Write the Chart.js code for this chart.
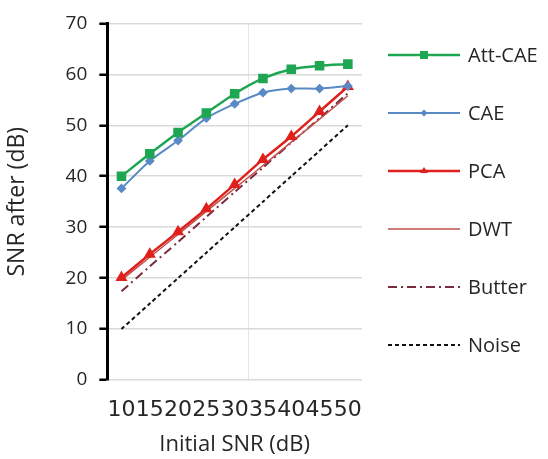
<!DOCTYPE html>
<html>
<head>
<meta charset="utf-8">
<script src="https://cdn.jsdelivr.net/npm/chart.js@4"></script>
<style>
  html, body { margin: 0; padding: 0; background: #fff; }
  #wrap { width: 548px; height: 459px; }
</style>
</head>
<body>
<div id="wrap"><canvas id="snrChart" width="548" height="459"></canvas></div>
<script>
// values
const initialSnr = ['10', '15', '20', '25', '30', '35', '40', '45', '50'];
const attCae = [40.0, 44.4, 48.6, 52.4, 56.2, 59.2, 61.0, 61.7, 62.0];
const cae    = [37.6, 43.0, 47.0, 51.4, 54.2, 56.4, 57.2, 57.2, 57.7];
const pca    = [20.1, 24.7, 29.1, 33.6, 38.4, 43.3, 47.8, 52.7, 57.6];
const dwt    = [19.6, 24.1, 28.6, 33.1, 37.6, 42.1, 46.7, 51.2, 55.8];
const butter = [17.4, 22.3, 27.1, 32.0, 36.9, 41.7, 46.6, 51.4, 56.3];
const noise  = [10, 15, 20, 25, 30, 35, 40, 45, 50];

const FONT = "'Open Sans', sans-serif";
const TXT = '#262626';

// legend drawn to the right, like the original spreadsheet figure
const sideLegend = {
  id: 'sideLegend',
  afterDraw(chart) {
    const ctx = chart.ctx;
    const x0 = 388, x1 = 460, top = 55, step = 58;
    const cx = (x0 + x1) / 2;
    chart.data.datasets.forEach((ds, i) => {
      const y = top + i * step;
      ctx.save();
      ctx.strokeStyle = ds.borderColor;
      ctx.lineWidth = ds.borderWidth;
      ctx.setLineDash(ds.borderDash || []);
      ctx.beginPath();
      ctx.moveTo(x0, y);
      ctx.lineTo(x1, y);
      ctx.stroke();
      ctx.setLineDash([]);
      ctx.fillStyle = ds.borderColor;
      ctx.beginPath();
      if (ds.pointStyle === 'rect') {
        ctx.fillRect(cx - 4, y - 4, 8, 8);
      } else if (ds.pointStyle === 'rectRot') {
        ctx.moveTo(cx, y - 3.5); ctx.lineTo(cx + 3.5, y); ctx.lineTo(cx, y + 3.5); ctx.lineTo(cx - 3.5, y);
        ctx.closePath(); ctx.fill();
      } else if (ds.pointStyle === 'triangle') {
        ctx.moveTo(cx, y - 4); ctx.lineTo(cx + 4, y + 2); ctx.lineTo(cx - 4, y + 2);
        ctx.closePath(); ctx.fill();
      }
      ctx.fillStyle = TXT;
      ctx.font = '20px ' + FONT;
      ctx.textBaseline = 'middle';
      ctx.textAlign = 'left';
      ctx.fillText(ds.label, 468, y + 1);
      ctx.restore();
    });
  }
};

new Chart(document.getElementById('snrChart'), {
  type: 'line',
  data: {
    labels: initialSnr,
    datasets: [
      { label: 'Att-CAE', data: attCae, borderColor: '#1fa653', backgroundColor: '#1fa653', pointBackgroundColor: '#1fa653', pointBorderColor: '#1fa653', borderWidth: 2.5, pointStyle: 'rect', pointRadius: 5 },
      { label: 'CAE', data: cae, borderColor: '#5a8ac6', backgroundColor: '#5a8ac6', pointBackgroundColor: '#5a8ac6', pointBorderColor: '#5a8ac6', borderWidth: 2, pointStyle: 'rectRot', pointRadius: 3.5 },
      { label: 'PCA', data: pca, borderColor: '#e0201c', backgroundColor: '#e0201c', pointBackgroundColor: '#e0201c', pointBorderColor: '#e0201c', borderWidth: 2.5, pointStyle: 'triangle', pointRadius: 4.5 },
      { label: 'DWT', data: dwt, borderColor: '#c0504d', backgroundColor: '#c0504d', borderWidth: 1.5, pointRadius: 0 },
      { label: 'Butter', data: butter, borderColor: '#7b2a3c', backgroundColor: '#7b2a3c', borderWidth: 2, borderDash: [9, 4, 2, 4], pointRadius: 0 },
      { label: 'Noise', data: noise, borderColor: '#111111', backgroundColor: '#111111', borderWidth: 2, borderDash: [4, 3], pointRadius: 0 }
    ]
  },
  options: {
    responsive: false,
    animation: false,
    layout: { padding: { top: 16, right: 186, bottom: 3, left: 0 } },
    plugins: {
      legend: { display: false },
      tooltip: { enabled: false }
    },
    elements: { line: { tension: 0.25 } },
    scales: {
      x: {
        offset: true,
        border: { display: false },
        grid: {
          offset: true,
          drawTicks: false,
          color: ctx => ctx.index === 5 ? '#e6e6e6' : 'rgba(0,0,0,0)'
        },
        ticks: {
          autoSkip: false, maxRotation: 0, padding: 19,
          color: TXT, font: { family: "'DejaVu Sans', sans-serif", size: 22, lineHeight: 1 }
        },
        title: { display: true, text: 'Initial SNR (dB)', color: TXT, font: { family: FONT, size: 22, lineHeight: 1 }, padding: { top: -6, bottom: 0 } }
      },
      y: {
        min: 0, max: 70,
        border: { display: true, color: '#000', width: 3 },
        grid: { color: '#d9d9d9', lineWidth: 1.5, tickColor: '#000', tickLength: 8, tickWidth: 2.5 },
        ticks: { stepSize: 10, padding: 12, color: TXT, font: { family: FONT, size: 19 } },
        title: { display: true, text: 'SNR after (dB)', color: TXT, font: { family: FONT, size: 23 }, padding: { top: 4, bottom: 22 } }
      }
    }
  },
  plugins: [sideLegend]
});
</script>
</body>
</html>
